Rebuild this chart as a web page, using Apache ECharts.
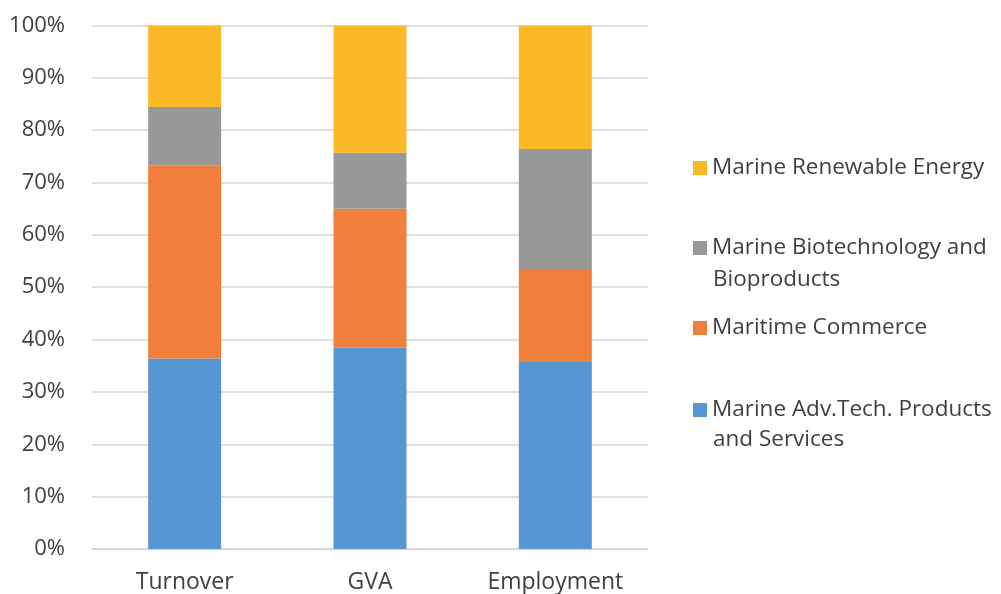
<!DOCTYPE html>
<html>
<head>
<meta charset="utf-8">
<script src="https://cdn.jsdelivr.net/npm/echarts@6/dist/echarts.min.js"></script>
<style>
html,body{margin:0;padding:0;background:#fff;}
#chart{width:1001px;height:594px;}
</style>
</head>
<body>
<div id="chart"></div>
<script>
var categories = ['Turnover', 'GVA', 'Employment'];
var seriesNames = ['Marine Adv.Tech. Products and Services', 'Maritime Commerce', 'Marine Biotechnology and Bioproducts', 'Marine Renewable Energy'];
var advTech = [36.4, 38.5, 35.7];
var commerce = [36.8, 26.5, 17.6];
var biotech = [11.2, 10.7, 23.1];
var renewable = [15.6, 24.3, 23.6];
var yTicks = ['0%', '10%', '20%', '30%', '40%', '50%', '60%', '70%', '80%', '90%', '100%'];

var colors = ['#5596d3', '#f07f3b', '#989898', '#fbb827'];
var values = [advTech, commerce, biotech, renewable];
var FONT = 'Open Sans';
var TXT = '#404040';

var series = seriesNames.map(function (n, i) {
  return {
    name: n, type: 'bar', stack: 'total', barWidth: 73,
    itemStyle: { color: colors[i] },
    data: values[i]
  };
});

// legend entries (top to bottom), first-line label and first-line center y
var legendFirst = ['Marine Renewable Energy', 'Marine Biotechnology and', 'Maritime Commerce', 'Marine Adv.Tech. Products'];
var legendSecond = ['', 'Bioproducts', '', 'and Services'];
var legendOrder = [3, 2, 1, 0];
var legendY = [168, 248, 328, 410];
var secondY = [0, 280, 0, 440];
var lineH = 31;
var LFS = 22.5;

var legends = legendOrder.map(function (si, k) {
  return {
    data: [seriesNames[si]],
    left: 693, top: legendY[k] - lineH / 2,
    padding: 0, itemWidth: 14, itemHeight: 14, itemGap: 0,
    selectedMode: false,
    icon: 'rect',
    textStyle: { fontFamily: FONT, fontSize: LFS, color: TXT, lineHeight: lineH },
    formatter: function () { return legendFirst[k]; }
  };
});

var graphics = [];
legendOrder.forEach(function (si, k) {
  if (legendSecond[k]) {
    graphics.push({
      type: 'text', x: 713, y: secondY[k],
      style: { text: legendSecond[k], fontFamily: FONT, fontSize: LFS, fill: TXT, verticalAlign: 'middle' }
    });
  }
});

var chart = echarts.init(document.getElementById('chart'), null, { renderer: 'canvas' });
chart.setOption({
  animation: false,
  grid: { left: 92, right: 353, top: 25.4, bottom: 44.4, containLabel: false },
  legend: legends,
  graphic: graphics,
  xAxis: {
    type: 'category', data: categories,
    axisLine: { show: true, lineStyle: { color: '#d4d4d4', width: 1.5 } },
    axisTick: { show: false },
    axisLabel: { fontFamily: FONT, fontSize: 23, color: TXT, margin: 22 }
  },
  yAxis: {
    type: 'value', min: 0, max: 100, interval: 10,
    axisLine: { show: false }, axisTick: { show: false },
    splitLine: { lineStyle: { color: '#d4d4d4', width: 1.5 } },
    axisLabel: {
      fontFamily: FONT, fontSize: 22, color: TXT, margin: 27,
      formatter: function (v) { return yTicks[Math.round(v / 10)]; }
    }
  },
  series: series
});
</script>
</body>
</html>
